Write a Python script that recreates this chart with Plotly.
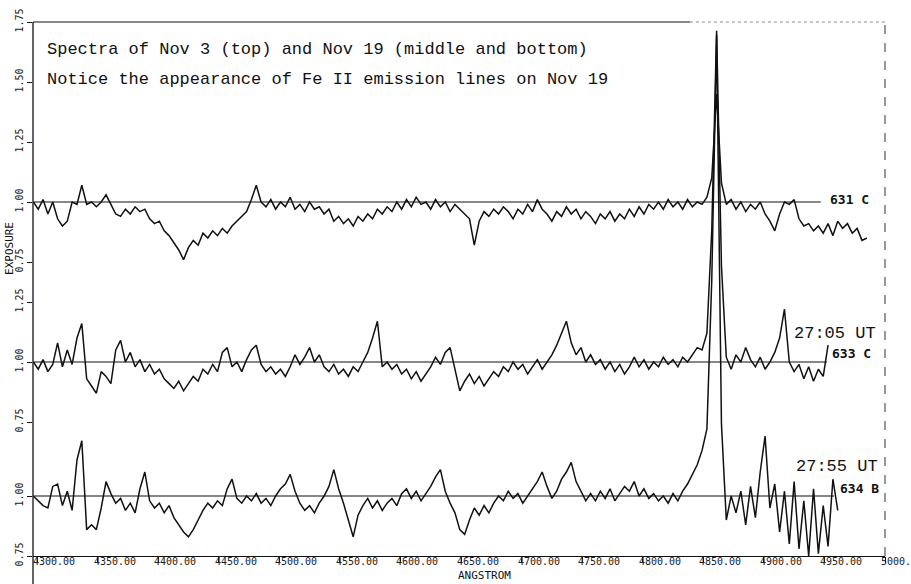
import plotly.graph_objects as go

# ---------------- data ----------------
LAMBDA_START = 4297.0   # Angstrom of first sample
LAMBDA_STEP = 4.0       # Angstrom between samples

# Nov 3 spectrum (top, plate 631 C), relative exposure
top_values = [
    1.00, 0.97, 1.01, 0.95, 1.00, 0.93, 0.90, 0.92, 1.00, 0.99,
    1.07, 0.99, 1.00, 0.98, 1.00, 1.03, 0.99, 0.95, 0.94, 0.97,
    0.95, 0.98, 0.96, 0.97, 0.93, 0.91, 0.92, 0.88, 0.86, 0.83,
    0.80, 0.76, 0.81, 0.84, 0.82, 0.87, 0.85, 0.88, 0.86, 0.89,
    0.87, 0.90, 0.92, 0.94, 0.96, 1.01, 1.07, 1.00, 0.98, 1.01,
    0.97, 1.00, 0.98, 1.02, 0.97, 0.99, 0.96, 1.00, 0.97, 0.98,
    0.95, 0.97, 0.92, 0.94, 0.91, 0.93, 0.90, 0.94, 0.92, 0.95,
    0.93, 0.97, 0.95, 0.98, 0.96, 1.00, 0.97, 1.01, 0.98, 1.02,
    0.99, 1.00, 0.97, 1.01, 0.98, 1.00, 0.96, 0.99, 0.97, 0.95,
    0.93, 0.82, 0.92, 0.96, 0.94, 0.97, 0.95, 0.98, 0.96, 0.93,
    0.97, 0.95, 0.99, 0.96, 1.01, 0.97, 0.95, 0.92, 0.96, 0.94,
    0.98, 0.95, 0.97, 0.93, 0.96, 0.94, 0.91, 0.95, 0.93, 0.96,
    0.92, 0.95, 0.93, 0.97, 0.94, 0.98, 0.95, 0.99, 0.97, 1.00,
    0.97, 1.01, 0.98, 1.00, 0.97, 1.01, 0.98, 1.00, 0.99, 1.02,
    1.10, 1.45, 1.08, 0.99, 1.01, 0.97, 1.00, 0.96, 0.99, 0.97,
    1.00, 0.95, 0.92, 0.88, 0.95, 1.00, 0.99, 1.01, 0.93, 0.90,
    0.91, 0.88, 0.90, 0.87, 0.91, 0.86, 0.92, 0.89, 0.91, 0.87,
    0.89, 0.84, 0.85,
]

# Nov 19, 27:05 UT spectrum (middle, plate 633 C)
middle_values = [
    1.00, 0.97, 1.01, 0.96, 0.99, 1.08, 0.98, 1.05, 0.99, 1.10,
    1.16, 0.93, 0.90, 0.87, 0.96, 0.94, 0.91, 1.05, 1.09, 1.00,
    1.04, 0.98, 1.01, 0.96, 0.99, 0.95, 0.97, 0.93, 0.91, 0.89,
    0.92, 0.88, 0.91, 0.94, 0.92, 0.97, 0.95, 0.99, 0.96, 1.04,
    1.06, 0.98, 1.00, 0.96, 1.01, 1.05, 1.07, 0.99, 0.96, 0.98,
    0.95, 0.97, 0.94, 0.98, 1.03, 0.99, 1.02, 1.06, 1.00, 1.03,
    0.98, 0.96, 0.99, 0.95, 0.97, 0.94, 0.98, 0.96, 1.00, 1.04,
    1.10, 1.17, 0.98, 1.00, 0.97, 0.99, 0.95, 0.97, 0.93, 0.96,
    0.92, 0.95, 0.98, 1.02, 0.99, 1.04, 1.06, 0.97, 0.88, 0.92,
    0.95, 0.91, 0.94, 0.90, 0.93, 0.96, 0.94, 0.98, 0.96, 1.00,
    0.97, 0.99, 0.95, 0.98, 1.01, 0.97, 1.00, 1.03, 1.07, 1.12,
    1.17, 1.08, 1.03, 1.06, 1.00, 1.03, 0.99, 1.01, 0.97, 1.00,
    0.96, 0.99, 0.95, 0.98, 1.02, 0.98, 1.01, 0.97, 1.00, 0.98,
    1.02, 0.99, 1.01, 0.98, 1.02, 1.00, 1.03, 1.06, 1.05, 1.12,
    1.55, 2.38, 1.40, 1.02, 0.97, 1.03, 1.00, 1.06, 1.01, 0.98,
    1.02, 0.97, 1.00, 1.04, 1.10, 1.22, 1.00, 0.96, 0.99, 0.93,
    0.98, 0.92, 0.97, 0.94, 1.07,
]

# Nov 19, 27:55 UT spectrum (bottom, plate 634 B)
bottom_values = [
    1.00, 0.98, 0.96, 0.95, 1.04, 1.05, 0.96, 1.02, 0.94, 1.15,
    1.23, 0.86, 0.88, 0.86, 0.95, 1.06, 1.01, 0.97, 0.99, 0.94,
    0.97, 0.93, 1.03, 1.10, 0.98, 0.95, 0.97, 0.93, 0.96, 0.91,
    0.88, 0.85, 0.83, 0.86, 0.90, 0.94, 0.97, 0.95, 0.98, 0.96,
    1.03, 1.07, 0.99, 0.97, 1.00, 0.98, 1.01, 0.97, 0.99, 0.96,
    1.00, 1.03, 1.05, 1.09, 1.02, 0.97, 0.94, 0.96, 0.93, 0.97,
    1.00, 1.04, 1.11, 1.03, 0.97, 0.90, 0.83, 0.92, 0.96, 0.99,
    0.95, 0.98, 0.94, 0.97, 0.99, 0.96, 1.01, 1.03, 0.99, 1.02,
    0.98, 1.01, 1.04, 1.08, 1.11, 1.02, 0.97, 0.93, 0.86, 0.84,
    0.90, 0.95, 0.92, 0.96, 0.93, 0.97, 1.00, 0.98, 1.02, 0.99,
    1.01, 0.97, 1.00, 1.03, 1.06, 1.10, 1.04, 0.99, 1.02, 1.07,
    1.10, 1.14, 1.06, 1.02, 0.98, 1.01, 0.98, 1.02, 0.99, 1.03,
    0.98, 1.01, 1.04, 1.02, 1.06, 1.00, 1.03, 0.99, 1.01, 0.98,
    1.00, 0.97, 1.01, 0.98, 1.02, 1.05, 1.09, 1.13, 1.19, 1.28,
    1.90, 2.92, 1.30, 0.90, 1.00, 0.93, 1.02, 0.88, 1.04, 0.91,
    1.10, 1.25, 0.95, 1.05, 0.85, 1.02, 0.80, 1.06, 0.78, 0.98,
    0.75, 1.03, 0.76, 0.96, 0.79, 1.07, 0.94,
]

# continuum reference lines (start / end wavelength of each 1.00 line)
baseline_top = [4297.0, 4947.0]
baseline_middle = [4297.0, 4952.0]
baseline_bottom = [4297.0, 4958.0]
baseline_level = [1.0, 1.0]

x_tick_values = [4300, 4350, 4400, 4450, 4500, 4550, 4600, 4650, 4700,
                 4750, 4800, 4850, 4900, 4950, 5000]
x_tick_labels = ["4300.00", "4350.00", "4400.00", "4450.00", "4500.00",
                 "4550.00", "4600.00", "4650.00", "4700.00", "4750.00",
                 "4800.00", "4850.00", "4900.00", "4950.00", "5000."]
y_top_ticks = [0.75, 1.00, 1.25, 1.50, 1.75]
y_middle_ticks = [0.75, 1.00, 1.25]
y_bottom_ticks = [0.75, 1.00]


def grid(values):
    return [LAMBDA_START + LAMBDA_STEP * i for i in range(len(values))]


# ---------------- figure ----------------
INK = "#111111"
line_style = dict(color=INK, width=1.5)

fig = go.Figure()
fig.add_trace(go.Scatter(x=grid(top_values), y=top_values, mode="lines",
                         line=line_style, yaxis="y", showlegend=False,
                         hoverinfo="skip"))
fig.add_trace(go.Scatter(x=grid(middle_values), y=middle_values, mode="lines",
                         line=line_style, yaxis="y2", showlegend=False,
                         hoverinfo="skip"))
fig.add_trace(go.Scatter(x=grid(bottom_values), y=bottom_values, mode="lines",
                         line=line_style, yaxis="y3", showlegend=False,
                         hoverinfo="skip"))
for bx, ax in ((baseline_top, "y"), (baseline_middle, "y2"),
               (baseline_bottom, "y3")):
    fig.add_trace(go.Scatter(x=bx, y=baseline_level, mode="lines",
                             line=dict(color=INK, width=1.2), yaxis=ax,
                             showlegend=False, hoverinfo="skip"))

tick_font = dict(family="DejaVu Sans Mono", size=10, color="#222222")


def yaxis_common(tickvals, rng):
    return dict(range=rng, tickvals=tickvals,
                ticktext=["%.2f" % v for v in tickvals],
                tickangle=-90, ticks="outside", ticklen=5, tickcolor=INK,
                tickfont=tick_font, showgrid=False, zeroline=False,
                showline=False, anchor="x", side="left", automargin=False,
                fixedrange=True)


fig.update_layout(
    width=911, height=584,
    margin=dict(l=33, r=26, t=22, b=28, autoexpand=False),
    paper_bgcolor="white", plot_bgcolor="white",
    xaxis=dict(range=[4296.7, 5000], tickvals=x_tick_values,
               showticklabels=False, ticks="outside", ticklen=6,
               tickcolor=INK, showgrid=False, automargin=False,
               zeroline=False, showline=True, linecolor=INK, linewidth=1.2,
               fixedrange=True),
    yaxis=yaxis_common(y_top_ticks, [-0.475, 1.75]),
    yaxis2=dict(**yaxis_common(y_middle_ticks, [0.1917, 2.4167]), overlaying="y"),
    yaxis3=dict(**yaxis_common(y_bottom_ticks, [0.75, 2.975]), overlaying="y"),
)

# x tick labels: plotter style, starting just left of each tick
for tv, tt in zip(x_tick_values, x_tick_labels):
    fig.add_annotation(text=tt, x=tv, xref="x", y=-0.0112, yref="paper",
                       xanchor="left", yanchor="middle", xshift=-6,
                       showarrow=False, font=tick_font)

# frame lines
fig.add_shape(type="line", xref="paper", yref="paper", x0=0, x1=0,
              y0=-0.06, y1=1.0, line=dict(color=INK, width=1.3))
fig.add_shape(type="line", xref="paper", yref="paper", x0=0, x1=0.771,
              y0=1.0, y1=1.0, line=dict(color=INK, width=1.1))
fig.add_shape(type="line", xref="paper", yref="paper", x0=0.771, x1=1.0,
              y0=1.0, y1=1.0, line=dict(color="#888888", width=1, dash="dot"))
fig.add_shape(type="line", xref="paper", yref="paper", x0=1.0, x1=1.0,
              y0=0, y1=1.0, line=dict(color="#444444", width=1.1, dash="dash"))

text_font = dict(family="Liberation Mono", size=17, color=INK)
fig.add_annotation(text="Spectra of Nov 3 (top) and Nov 19 (middle and bottom)",
                   xref="paper", yref="paper", x=0.0141, y=0.9476,
                   xanchor="left", yanchor="middle", showarrow=False,
                   font=text_font)
fig.add_annotation(text="Notice the appearance of Fe II emission lines on Nov 19",
                   xref="paper", yref="paper", x=0.0141, y=0.8914,
                   xanchor="left", yanchor="middle", showarrow=False,
                   font=text_font)

fig.add_annotation(text="27:05 UT", xref="paper", yref="paper", x=0.9918,
                   y=0.4176, xanchor="right", yanchor="middle",
                   showarrow=False, font=text_font)
fig.add_annotation(text="27:55 UT", xref="paper", yref="paper", x=0.9941,
                   y=0.1685, xanchor="right", yanchor="middle",
                   showarrow=False, font=text_font)

plate_font = dict(family="DejaVu Sans Mono", size=13, color=INK)
for txt, px, py in (("<b>631 C</b>", 0.9331, 0.6667),
                    ("<b>633 C</b>", 0.9354, 0.3801),
                    ("<b>634 B</b>", 0.9448, 0.1273)):
    fig.add_annotation(text=txt, xref="paper", yref="paper", x=px, y=py,
                       xanchor="left", yanchor="middle", showarrow=False,
                       font=plate_font)

fig.add_annotation(text="EXPOSURE", xref="paper", yref="paper", x=-0.027,
                   y=0.5768, xanchor="center", yanchor="middle",
                   textangle=-90, showarrow=False,
                   font=dict(family="DejaVu Sans Mono", size=11, color=INK))
fig.add_annotation(text="ANGSTROM", xref="paper", yref="paper", x=0.5305,
                   y=-0.0356, xanchor="center", yanchor="middle",
                   showarrow=False,
                   font=dict(family="DejaVu Sans Mono", size=11, color=INK))

fig.write_html("out.html",
               config={"displayModeBar": False, "staticPlot": True},
               post_script="document.body.style.margin='0';"
                           "document.body.style.overflow='hidden';")
